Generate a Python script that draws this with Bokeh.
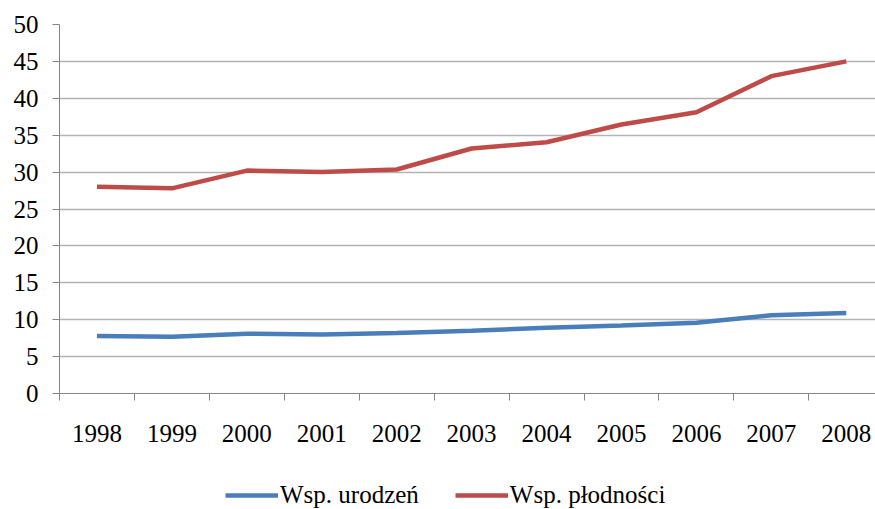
from bokeh.plotting import figure
from bokeh.layouts import column
from bokeh.models import (ColumnDataSource, FixedTicker, Range1d, Legend, LegendItem)
from bokeh.embed import file_html
from bokeh.resources import INLINE

years = ["1998", "1999", "2000", "2001", "2002", "2003", "2004", "2005", "2006", "2007", "2008"]
wsp_urodzen = [7.8, 7.7, 8.1, 8.0, 8.2, 8.5, 8.9, 9.2, 9.6, 10.6, 10.9]
wsp_plodnosci = [28.0, 27.8, 30.2, 30.0, 30.35, 33.2, 34.05, 36.45, 38.1, 43.0, 45.0]
series_names = ["Wsp. urodzeń", "Wsp. płodności"]
y_ticks = list(range(0, 51, 5))

FONT = "Liberation Serif"
BLUE = "#4A7EBB"
RED = "#BE4B48"
xs = [i + 0.5 for i in range(len(years))]

p = figure(frame_width=816, frame_height=369, output_backend="svg", toolbar_location=None,
           x_range=Range1d(0, 10.89), y_range=Range1d(0, 50))
p.min_border_left = 59
p.min_border_right = 0
p.min_border_top = 24
p.min_border_bottom = 65
p.outline_line_color = None
p.background_fill_color = "white"
p.border_fill_color = "white"

src = ColumnDataSource(dict(x=xs, u=wsp_urodzen, f=wsp_plodnosci))
p.line("x", "u", source=src, line_color=BLUE, line_width=4.5)
p.line("x", "f", source=src, line_color=RED, line_width=4.5)

# x axis: labels at category centers, ticks at category boundaries
p.xaxis.ticker = FixedTicker(ticks=xs, minor_ticks=list(range(0, 11)))
p.xaxis.major_label_overrides = {x: y for x, y in zip(xs, years)}
p.xaxis.major_tick_out = 0
p.xaxis.major_tick_in = 0
p.xaxis.minor_tick_out = 7
p.xaxis.minor_tick_in = 0
p.xaxis.minor_tick_line_color = "#868686"
p.xaxis.axis_line_color = "#868686"
p.xaxis.major_label_text_font = FONT
p.xaxis.major_label_text_font_size = "25px"
p.xaxis.major_label_text_color = "#000000"
p.xaxis.major_label_standoff = 24

p.yaxis.ticker = FixedTicker(ticks=y_ticks)
p.yaxis.major_tick_out = 7
p.yaxis.major_tick_in = 0
p.yaxis.minor_tick_out = 0
p.yaxis.minor_tick_in = 0
p.yaxis.major_tick_line_color = "#868686"
p.yaxis.axis_line_color = "#868686"
p.yaxis.major_label_text_font = FONT
p.yaxis.major_label_text_font_size = "25px"
p.yaxis.major_label_text_color = "#000000"
p.yaxis.major_label_standoff = 14

p.xgrid.grid_line_color = None
p.ygrid.ticker = FixedTicker(ticks=y_ticks)
p.ygrid.grid_line_color = "#B3B3B3"
p.ygrid.grid_line_width = 1.5

# legend strip below the chart (separate small figure)
p2 = figure(frame_width=816, height=51, output_backend="svg", toolbar_location=None,
            x_axis_type=None, y_axis_type=None,
            x_range=Range1d(0, 1), y_range=Range1d(0, 1))
p2.min_border = 0
p2.min_border_left = 59
p2.min_border_right = 0
p2.outline_line_color = None
p2.xgrid.grid_line_color = None
p2.ygrid.grid_line_color = None
p2.background_fill_color = "white"
p2.border_fill_color = "white"
# proxy lines lying outside the visible range, only used for legend swatches
lr1 = p2.line(x=[0, 1], y=[5, 5], line_color=BLUE, line_width=4.5)
lr2 = p2.line(x=[0, 1], y=[5, 5], line_color=RED, line_width=4.5)

legend = Legend(items=[LegendItem(label=series_names[0], renderers=[lr1]),
                       LegendItem(label=series_names[1], renderers=[lr2])],
                orientation="horizontal", location=(166, 0))
legend.label_text_font = FONT
legend.label_text_font_size = "25px"
legend.label_text_color = "#000000"
legend.glyph_width = 53
legend.glyph_height = 20
legend.label_standoff = 2
legend.spacing = 36
legend.padding = 0
legend.margin = 0
legend.border_line_color = None
legend.background_fill_alpha = 0
p2.add_layout(legend, "center")

open("out.html", "w").write(file_html(column(p, p2, spacing=0), INLINE))
